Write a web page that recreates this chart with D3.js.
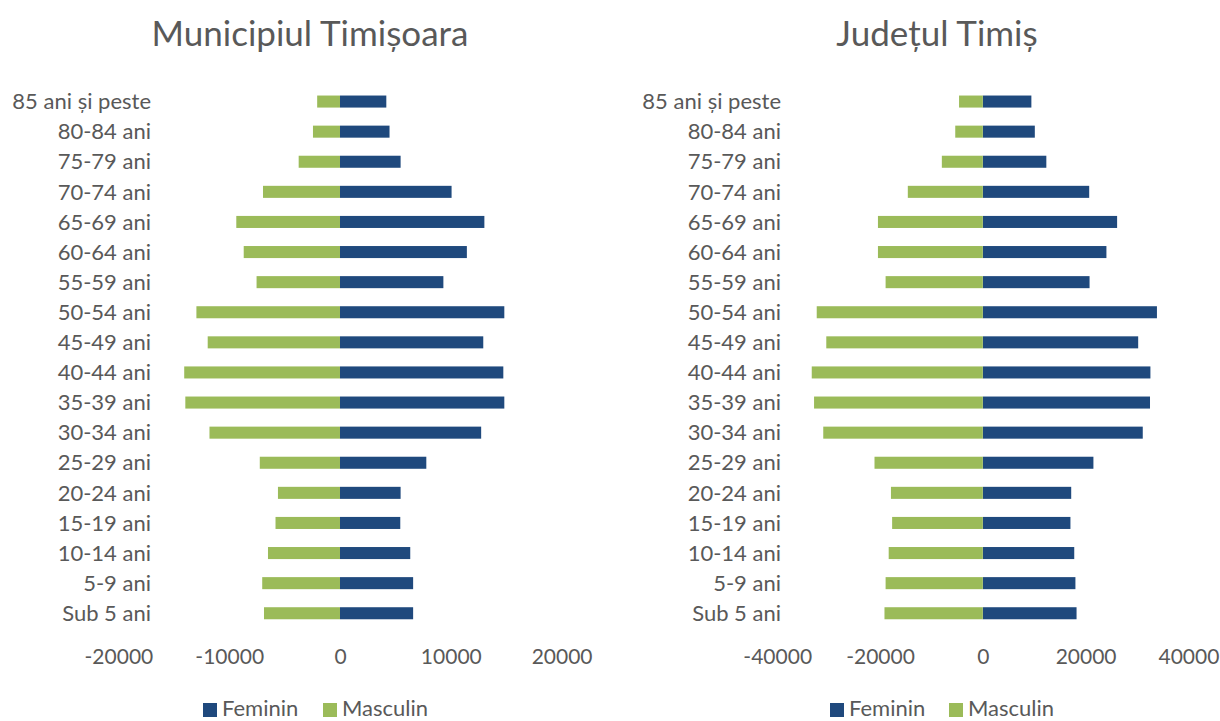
<!DOCTYPE html>
<html>
<head>
<meta charset="utf-8">
<script src="https://cdn.jsdelivr.net/npm/d3@7"></script>
<style>
  html, body { margin: 0; padding: 0; background: #fff; }
  svg { display: block; }
  text { font-family: Lato, "Open Sans", sans-serif; fill: #595959; }
</style>
</head>
<body>
<svg id="chart" width="1220" height="721"></svg>
<script>
const categories = ["85 ani și peste","80-84 ani","75-79 ani","70-74 ani","65-69 ani","60-64 ani","55-59 ani","50-54 ani","45-49 ani","40-44 ani","35-39 ani","30-34 ani","25-29 ani","20-24 ani","15-19 ani","10-14 ani","5-9 ani","Sub 5 ani"];
const seriesNames = ["Feminin", "Masculin"];
const timFeminin  = [4180,4470,5470,10070,13030,11450,9330,14830,12930,14740,14830,12740,7790,5470,5440,6340,6600,6600];
const timMasculin = [2060,2440,3730,6950,9360,8690,7530,12960,11940,14060,13960,11780,7240,5600,5820,6500,7020,6860];
const judFeminin  = [9450,10120,12360,20700,26130,24050,20770,33880,30230,32610,32530,31120,21520,17200,17050,17790,18020,18240];
const judMasculin = [4620,5360,7970,14590,20400,20400,18910,32310,30450,33280,32830,31040,21070,17870,17640,18310,18910,19130];
const timTicks = [-20000,-10000,0,10000,20000];
const judTicks = [-40000,-20000,0,20000,40000];
const titles = ["Municipiul Timișoara", "Județul Timiș"];

const colors = { Feminin: "#1F497D", Masculin: "#9BBB59" };
const svg = d3.select("#chart");

function pyramid(cfg) {
  const g = svg.append("g");
  const x = d3.scaleLinear().domain(cfg.domain).range(cfg.xRange);
  const y = d3.scaleBand().domain(categories).range([86.5, 628.3]).paddingInner(0.6).paddingOuter(0.3);

  g.append("text").attr("x", cfg.titleX).attr("y", 46).attr("text-anchor", "middle")
    .style("font-size", "35px").text(cfg.title);

  g.selectAll("text.cat").data(categories).join("text")
    .attr("class", "cat")
    .attr("x", cfg.labelX)
    .attr("y", d => y(d) + y.bandwidth() / 2)
    .attr("dy", "0.35em")
    .attr("text-anchor", "end")
    .style("font-size", "22px")
    .text(d => d);

  g.selectAll("rect.fem").data(cfg.fem).join("rect")
    .attr("class", "fem")
    .attr("x", x(0))
    .attr("y", (d, i) => y(categories[i]))
    .attr("width", d => x(d) - x(0))
    .attr("height", y.bandwidth())
    .attr("fill", colors.Feminin);

  g.selectAll("rect.masc").data(cfg.masc).join("rect")
    .attr("class", "masc")
    .attr("x", d => x(-d))
    .attr("y", (d, i) => y(categories[i]))
    .attr("width", d => x(0) - x(-d))
    .attr("height", y.bandwidth())
    .attr("fill", colors.Masculin);

  const ax = g.append("g").attr("transform", "translate(0,646)")
    .call(d3.axisBottom(x).tickValues(cfg.ticks).tickSize(0).tickFormat(d => String(d)));
  ax.select(".domain").remove();
  ax.selectAll("text").style("font-size", "21px").style("fill", "#595959")
    .style("font-family", "Lato, 'Open Sans', sans-serif");

  const lg = g.append("g");
  cfg.legend.forEach((L, i) => {
    lg.append("rect").attr("x", L.sx).attr("y", 703).attr("width", 14).attr("height", 14)
      .attr("fill", colors[seriesNames[i]]);
    lg.append("text").attr("x", L.tx).attr("y", 716).style("font-size", "22px").text(seriesNames[i]);
  });
}

pyramid({
  title: titles[0], titleX: 310, labelX: 151,
  domain: [-20000, 20000], xRange: [118.4, 561.6],
  fem: timFeminin, masc: timMasculin, ticks: timTicks,
  legend: [{sx: 203, tx: 222}, {sx: 323, tx: 342}]
});
pyramid({
  title: titles[1], titleX: 937, labelX: 781,
  domain: [-40000, 40000], xRange: [777.2, 1188.4],
  fem: judFeminin, masc: judMasculin, ticks: judTicks,
  legend: [{sx: 830, tx: 849}, {sx: 949, tx: 968}]
});
</script>
</body>
</html>
